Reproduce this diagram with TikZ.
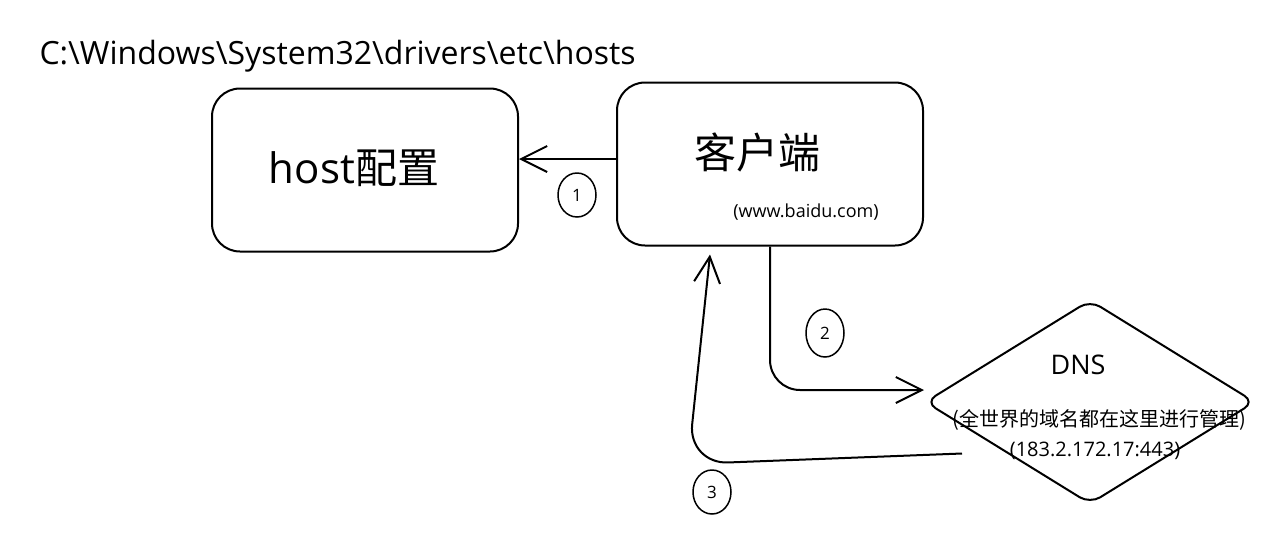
\documentclass[tikz,border=0pt]{standalone}
\usepackage{fontspec}
\setmainfont{Open Sans}
\newfontfamily\cjk{Noto Sans CJK SC}
\usetikzlibrary{arrows.meta,shapes.geometric,positioning}

\tikzset{
  card/.style={draw, line width=2pt, rounded corners=28pt, minimum width=306pt, minimum height=163pt},
  stepmark/.style={draw, ellipse, line width=1.5pt, minimum width=38pt, minimum height=44pt, inner sep=0pt, font=\fontsize{17}{17}\selectfont},
  flow/.style={line width=2pt, -{Straight Barb[length=26pt,width=26pt,line width=2pt]}},
}

\begin{document}
\begin{tikzpicture}[x=1pt,y=-1pt]
  \useasboundingbox (0,0) rectangle (1267,542);

  % Path of the hosts file
  \node[anchor=west, font=\fontsize{32}{32}\selectfont] (hostspath) at (36,56) {C:\textbackslash Windows\textbackslash System32\textbackslash drivers\textbackslash etc\textbackslash hosts};

  % Boxes
  \node[card] (hostcfg) at (365,170) {};
  \node[font=\fontsize{42}{42}\selectfont] (hosttitle) at (354,168) {host{\cjk 配置}};

  \node[card] (client) at (770,164) {};
  \node[font=\fontsize{42}{42}\selectfont\cjk] (clienttitle) at (757,152) {客户端};
  \node[font=\fontsize{18}{18}\selectfont] (clienturl) at (806,212) {(www.baidu.com)};

  % DNS
  \node[draw, diamond, line width=2pt, rounded corners=12pt, minimum width=330pt, minimum height=204pt, inner sep=0pt] (dns) at (1090,402) {};
  \node[font=\fontsize{27}{27}\selectfont] (dnstitle) at (1078,365) {DNS};
  \node[font=\fontsize{20}{20}\selectfont\cjk] (dnsnote) at (1099,420) {(全世界的域名都在这里进行管理)};
  \node[font=\fontsize{20}{20}\selectfont] (dnsaddr) at (1095,451) {(183.2.172.17:443)};

  % Steps
  \draw[flow] ([yshift=5pt]client.west) -- ([yshift=5pt]client.west -| hostcfg.east);
  \node[stepmark] (step1) at (577,195) {1};

  \draw[flow, rounded corners=30pt] (client.south) -- ([yshift=12pt]client.south |- dns.west) -- ([yshift=12pt]dns.west);
  \node[stepmark, minimum height=48pt] (step2) at (825,333) {2};

  \coordinate (dnsback) at ([xshift=-45pt]dns.south west);
  \draw[flow, rounded corners=40pt] (dnsback) -- (688,464) -- ([xshift=-60pt,yshift=-8pt]client.south);
  \node[stepmark] (step3) at (712,492) {3};
\end{tikzpicture}
\end{document}
